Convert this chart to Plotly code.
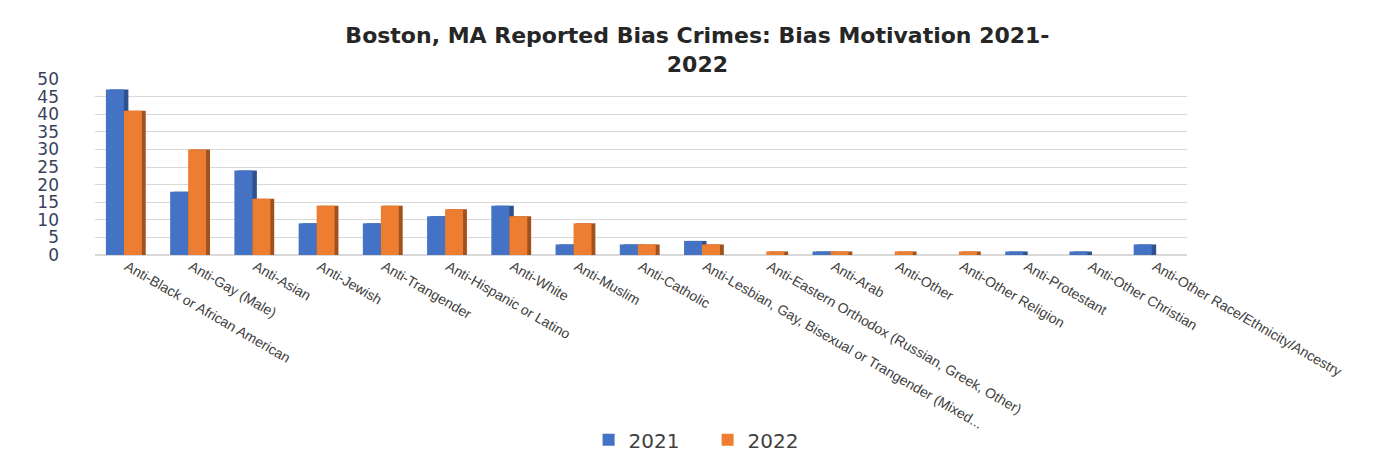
import plotly.graph_objects as go

categories = [
    "Anti-Black or African American", "Anti-Gay (Male)", "Anti-Asian", "Anti-Jewish",
    "Anti-Trangender", "Anti-Hispanic or Latino", "Anti-White", "Anti-Muslim",
    "Anti-Catholic", "Anti-Lesbian, Gay, Bisexual or Trangender (Mixed...",
    "Anti-Eastern Orthodox (Russian, Greek, Other)", "Anti-Arab", "Anti-Other",
    "Anti-Other Religion", "Anti-Protestant", "Anti-Other Christian",
    "Anti-Other Race/Ethnicity/Ancestry",
]
values_2021 = [47, 18, 24, 9, 9, 11, 14, 3, 3, 4, 0, 1, 0, 0, 1, 1, 3]
values_2022 = [41, 30, 16, 14, 14, 13, 11, 9, 3, 3, 1, 1, 1, 1, 0, 0, 0]
y_ticks = [0, 5, 10, 15, 20, 25, 30, 35, 40, 45, 50]

BLUE, BLUE_DARK = "#4472C4", "#2F528F"
ORANGE, ORANGE_DARK = "#ED7D31", "#A0521E"

fig = go.Figure()
# 3D side faces (drawn behind the fronts)
fig.add_trace(go.Bar(x=categories, y=values_2021, offset=-0.27, width=0.29,
                     marker=dict(color=BLUE_DARK, line=dict(width=0)),
                     showlegend=False, hoverinfo="skip"))
fig.add_trace(go.Bar(x=categories, y=values_2021, offset=-0.33, width=0.28, name="2021",
                     marker=dict(color=BLUE, line=dict(width=0))))
fig.add_trace(go.Bar(x=categories, y=values_2022, offset=-0.01, width=0.30,
                     marker=dict(color=ORANGE_DARK, line=dict(width=0)),
                     showlegend=False, hoverinfo="skip"))
fig.add_trace(go.Bar(x=categories, y=values_2022, offset=-0.05, width=0.28, name="2022",
                     marker=dict(color=ORANGE, line=dict(width=0))))

fig.update_layout(
    width=1390, height=473,
    barmode="overlay",
    paper_bgcolor="white", plot_bgcolor="white",
    margin=dict(l=87, r=211, t=71, b=226, autoexpand=False),
    title=dict(
        text="<b>Boston, MA Reported Bias Crimes: Bias Motivation 2021-<br>2022</b>",
        x=0.496, xanchor="center", y=0.925, yanchor="middle",
        font=dict(family="DejaVu Sans", size=22, color="#262626"),
    ),
    xaxis=dict(
        tickangle=30, tickfont=dict(family="Liberation Sans", size=14, color="#404040"),
        showgrid=False, showline=False, ticks="", range=[-0.5, 16.5], automargin=False,
    ),
    yaxis=dict(
        range=[0, 50], tickvals=y_ticks, showgrid=True, gridcolor="#D9D9D9", gridwidth=1,
        zeroline=True, zerolinecolor="#D9D9D9", showline=False, ticks="", automargin=False,
        tickfont=dict(family="DejaVu Sans", size=17, color="#3A3F5C"), ticklabelstandoff=35,
    ),
    legend=dict(
        orientation="h", x=0.561, xanchor="center", y=-1.05, yanchor="middle",
        font=dict(family="DejaVu Sans", size=20, color="#404040"),
        itemwidth=30, entrywidth=74, entrywidthmode="pixels", traceorder="normal",
    ),
    bargap=0.4,
)

fig.write_html("out.html")
